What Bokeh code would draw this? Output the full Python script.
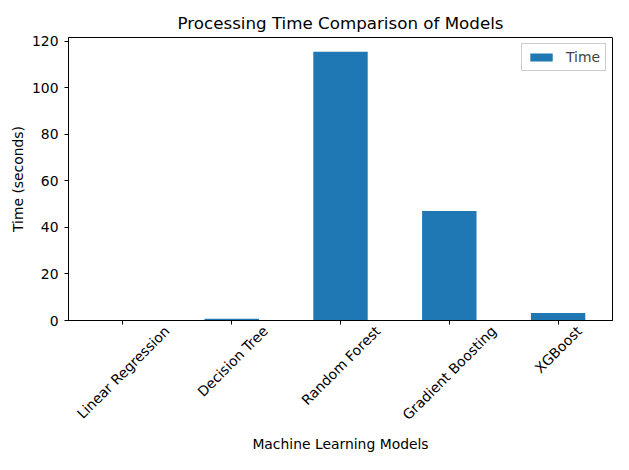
import math
from bokeh.plotting import figure
from bokeh.models import (ColumnDataSource, Range1d, Legend, LegendItem,
                          LinearAxis, FixedTicker)
from bokeh.embed import file_html
from bokeh.resources import INLINE

models = ["Linear Regression", "Decision Tree", "Random Forest", "Gradient Boosting", "XGBoost"]
times = [0.03, 0.8, 115.5, 47.1, 3.2]
y_ticks = [0, 20, 40, 60, 80, 100, 120]

n = len(models)
centers = [i + 0.5 for i in range(n)]  # slot centres of each category
src = ColumnDataSource(dict(model=models, time=times, xpos=centers))

FONT = "DejaVu Sans"
TICK_PX = 13.9
W, H = 613, 454
BL, BR = 68, 1

# DejaVu Sans advance widths (units per 2048 em) for estimating label widths
ADV = {" ": 651, "a": 1255, "c": 1126, "d": 1300, "e": 1260, "g": 1300, "i": 569,
       "m": 1995, "n": 1298, "o": 1253, "r": 842, "s": 1067, "t": 803,
       "B": 1405, "D": 1577, "F": 1178, "G": 1606, "L": 1141, "R": 1423, "T": 1251, "X": 1405}


def text_width(s, px):
    return sum(ADV.get(ch, 1250) for ch in s) / 2048.0 * px


p = figure(x_range=Range1d(0, n), y_range=Range1d(0, 121.6),
           width=W, height=H, output_backend="svg", toolbar_location=None,
           title="Processing Time Comparison of Models",
           min_border_left=BL, min_border_right=BR, min_border_top=37, min_border_bottom=0)

r = p.vbar(x="xpos", top="time", width=0.5, source=src, color="#1f77b4", line_color=None)

p.title.align = "center"
p.title.text_font = FONT
p.title.text_font_size = "16.7px"
p.title.text_font_style = "normal"
p.title.text_color = "black"
p.title.standoff = 9

p.xgrid.visible = False
p.ygrid.visible = False
p.outline_line_color = "black"
p.outline_line_width = 1
p.outline_line_alpha = 1

for ax in (p.xaxis[0], p.yaxis[0]):
    ax.axis_line_color = "black"
    ax.major_tick_line_color = "black"
    ax.major_tick_out = 4
    ax.major_tick_in = 0
    ax.minor_tick_line_color = None
    ax.major_label_text_font = FONT
    ax.major_label_text_font_size = f"{TICK_PX}px"
    ax.major_label_text_color = "black"
    ax.major_label_standoff = 6
    ax.axis_label_text_font = FONT
    ax.axis_label_text_font_size = f"{TICK_PX}px"
    ax.axis_label_text_font_style = "normal"
    ax.axis_label_text_color = "black"

p.yaxis.ticker = y_ticks
p.yaxis.axis_label = "Time (seconds)"
p.yaxis.axis_label_standoff = 3

# main x axis: line and ticks at category centres only
p.xaxis.ticker = FixedTicker(ticks=centers)
p.xaxis.major_label_text_alpha = 0
p.xaxis.major_label_standoff = 0
p.xaxis.axis_label_standoff = 0

# second axis carrying the rotated category names, centred under each tick (matplotlib style)
px_per_unit = (W - BL - BR) / n
c = math.cos(math.pi / 4)
label_ticks = []
overrides = {}
for i, m in enumerate(models):
    w = text_width(m, TICK_PX)
    t = round(centers[i] + 0.5 * c * w / px_per_unit, 4)
    label_ticks.append(t)
    overrides[t] = m

lab_axis = LinearAxis(ticker=FixedTicker(ticks=label_ticks),
                      major_label_overrides=overrides,
                      axis_line_color=None, major_tick_line_color=None,
                      minor_tick_line_color=None, major_tick_out=0, major_tick_in=0,
                      major_label_orientation=math.pi / 4, major_label_standoff=4,
                      major_label_text_font=FONT, major_label_text_font_size=f"{TICK_PX}px",
                      major_label_text_color="black",
                      axis_label="Machine Learning Models", axis_label_standoff=4,
                      axis_label_text_font=FONT, axis_label_text_font_size=f"{TICK_PX}px",
                      axis_label_text_font_style="normal", axis_label_text_color="black")
p.add_layout(lab_axis, "below")

legend = Legend(items=[LegendItem(label="Time", renderers=[r])], location="top_right")
legend.label_text_font = FONT
legend.label_text_font_size = f"{TICK_PX}px"
legend.border_line_color = "#cccccc"
legend.border_line_alpha = 1
legend.background_fill_alpha = 0.8
legend.glyph_width = 28
legend.glyph_height = 10
legend.label_standoff = 11
legend.padding = 5
legend.margin = 6
legend.spacing = 0
p.add_layout(legend)

open("out.html", "w").write(file_html(p, INLINE))
